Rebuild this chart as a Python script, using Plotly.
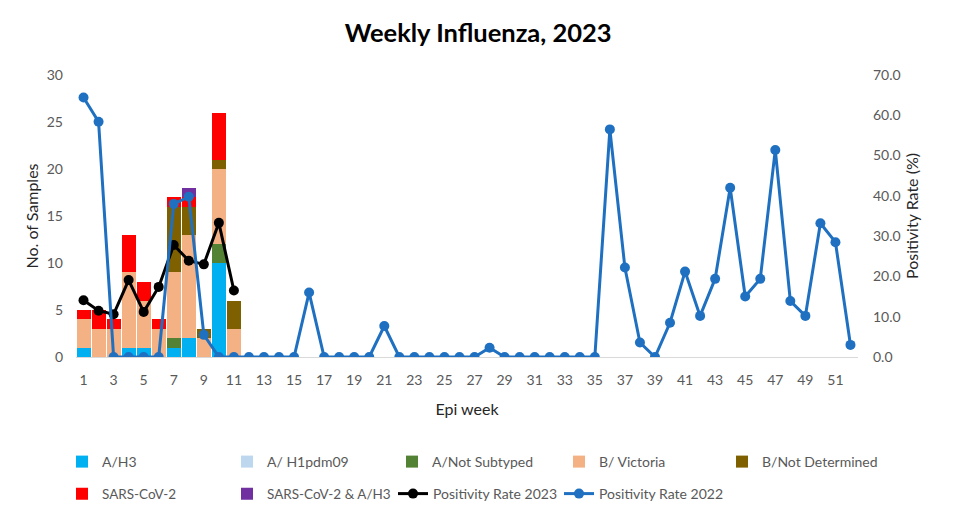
import plotly.graph_objects as go

weeks = list(range(1, 53))
bar_weeks = list(range(1, 12))

a_h3 = [1, 0, 0, 1, 1, 0, 1, 2, 0, 10, 0]
a_h1pdm09 = [0, 0, 0, 0, 0, 0, 0, 0, 0, 0, 0]
a_not_subtyped = [0, 0, 0, 0, 0, 0, 1, 0, 0, 2, 0]
b_victoria = [3, 3, 3, 8, 5, 3, 7, 11, 2, 8, 3]
b_not_determined = [0, 0, 0, 0, 0, 0, 7, 3, 1, 1, 3]
sars_cov2 = [1, 2, 1, 4, 2, 1, 1, 1, 0, 5, 0]
sars_cov2_a_h3 = [0, 0, 0, 0, 0, 0, 0, 1, 0, 0, 0]

pos_2023 = [14.1, 11.5, 10.6, 19.1, 11.2, 17.4, 27.8, 23.9, 23.0, 33.3, 16.5]
pos_2022 = [64.4, 58.4, 0, 0, 0, 0, 38.0, 39.8, 5.5, 0,
            0, 0, 0, 0, 0, 16.0, 0, 0, 0, 0,
            7.7, 0, 0, 0, 0, 0, 0, 2.3, 0, 0,
            0, 0, 0, 0, 0, 56.5, 22.2, 3.6, 0, 8.5,
            21.2, 10.2, 19.4, 42.0, 15.0, 19.4, 51.4, 13.9, 10.2, 33.2,
            28.5, 3.0]

x_ticks = list(range(1, 52, 2))

FONT = "Lato, 'Open Sans', sans-serif"
GRAY = "#595959"

bar_series = [
    ("A/H3", a_h3, "#00B0F0", "legend"),
    ("A/ H1pdm09", a_h1pdm09, "#BDD7EE", "legend"),
    ("A/Not Subtyped", a_not_subtyped, "#548235", "legend"),
    ("B/ Victoria", b_victoria, "#F4B183", "legend3"),
    ("B/Not Determined", b_not_determined, "#7F6000", "legend3"),
    ("SARS-CoV-2", sars_cov2, "#FF0000", "legend2"),
    ("SARS-CoV-2 & A/H3", sars_cov2_a_h3, "#7030A0", "legend2"),
]

fig = go.Figure()
for name, vals, color, lg in bar_series:
    fig.add_trace(go.Bar(
        x=bar_weeks, y=vals, name=name, marker=dict(color=color, line=dict(width=0)),
        legend=lg, yaxis="y",
    ))

fig.add_trace(go.Scatter(
    x=bar_weeks, y=pos_2023, name="Positivity Rate 2023", mode="lines+markers",
    line=dict(color="#000000", width=3), marker=dict(size=10, color="#000000"),
    yaxis="y2", legend="legend4",
))
fig.add_trace(go.Scatter(
    x=weeks, y=pos_2022, name="Positivity Rate 2022", mode="lines+markers",
    line=dict(color="#1F70C1", width=3), marker=dict(size=10, color="#1F70C1"),
    yaxis="y2", legend="legend4",
))

# The page body has an 8px margin, so the figure is sized 8px smaller
# and its margins are shifted to land the plot area where the reference has it.
PL, PT, PW, PH = 68, 67, 782, 282


def legend_box(px, py, spacing, size=14):
    return dict(
        orientation="h", xanchor="left", yanchor="middle",
        x=(px - 76) / PW, y=(357 - py) / PH,
        font=dict(family=FONT, size=size, color=GRAY),
        entrywidth=spacing - 46, entrywidthmode="pixels", bgcolor="rgba(0,0,0,0)",
        traceorder="normal",
    )


fig.update_layout(
    width=946, height=503,
    margin=dict(l=PL, r=946 - PL - PW, t=PT, b=503 - PT - PH, autoexpand=False),
    paper_bgcolor="white", plot_bgcolor="white",
    barmode="stack", bargap=0.07,
    title=dict(text="<b>Weekly Influenza, 2023</b>", x=0.497, xanchor="center",
               y=0.95, yanchor="middle",
               font=dict(family=FONT, size=25.5, color="#000000")),
    font=dict(family=FONT, color=GRAY),
    xaxis=dict(
        range=[0.5, 52.5], tickmode="array", tickvals=x_ticks,
        ticktext=[str(t) for t in x_ticks], showgrid=False, zeroline=False,
        showline=True, linecolor="#D9D9D9", linewidth=1, ticks="",
        ticklabelstandoff=10, tickfont=dict(size=14, color=GRAY),
        title=dict(text="Epi week", font=dict(size=16, color="#262626"), standoff=17),
    ),
    yaxis=dict(
        range=[0, 30], dtick=5, showgrid=False, zeroline=False, ticks="",
        ticklabelstandoff=12, tickfont=dict(size=14, color=GRAY),
        title=dict(text="No. of Samples", font=dict(size=16, color="#262626"), standoff=4),
    ),
    yaxis2=dict(
        range=[0, 70], dtick=10, tickformat=".1f", overlaying="y", side="right",
        showgrid=False, zeroline=False, ticks="", ticklabelstandoff=14,
        tickfont=dict(size=14, color=GRAY),
        title=dict(text="Positivity Rate (%)", font=dict(size=16, color="#262626"), standoff=7),
    ),
    legend=legend_box(62, 462, 166),
    legend3=legend_box(559, 462, 164),
    legend2=legend_box(62, 494, 166, 13.5),
    legend4=legend_box(393, 494, 167),
)

fig.write_html("out.html")
